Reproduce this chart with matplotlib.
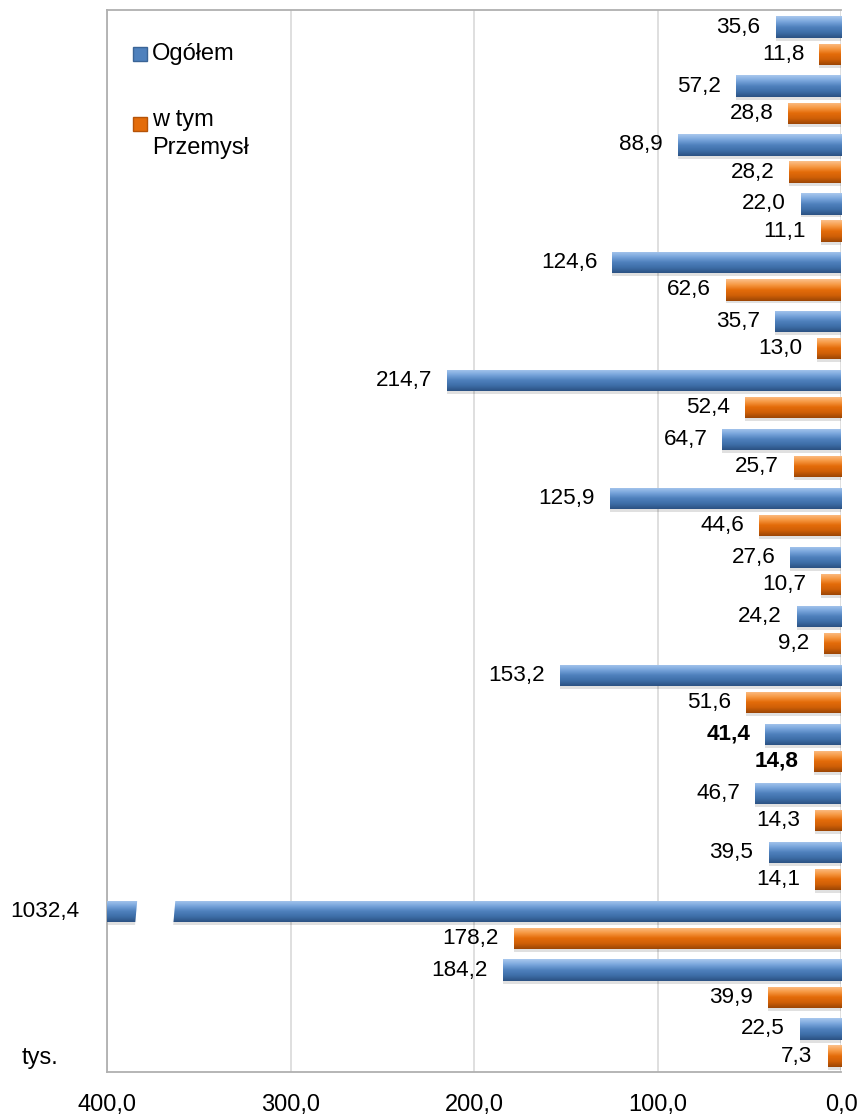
import matplotlib
matplotlib.use('Agg')

from matplotlib import pyplot as plt
from matplotlib.colors import LinearSegmentedColormap
from matplotlib.patches import Rectangle, Polygon
import numpy as np

plt.rcParams['font.family'] = ['Liberation Sans', 'DejaVu Sans']

# values, top to bottom (tys.)
ogolem = [35.6, 57.2, 88.9, 22.0, 124.6, 35.7, 214.7, 64.7, 125.9,
          27.6, 24.2, 153.2, 41.4, 46.7, 39.5, 1032.4, 184.2, 22.5]
przemysl = [11.8, 28.8, 28.2, 11.1, 62.6, 13.0, 52.4, 25.7, 44.6,
            10.7, 9.2, 51.6, 14.8, 14.3, 14.1, 178.2, 39.9, 7.3]
bold_row = 12
xticks = [400, 300, 200, 100, 0]
series_names = ['Ogółem', 'w tym\nPrzemysł']

XMAX = 400
FS = 16.2

blue_cmap = LinearSegmentedColormap.from_list(
    'b', ['#a9c8ee', '#7aa6dc', '#4f81bd', '#3e6ea8', '#2b5283'])
orange_cmap = LinearSegmentedColormap.from_list(
    'o', ['#fbc08a', '#f79a45', '#e46c0a', '#cf5f07', '#9c4605'])

fig = plt.figure(figsize=(8.61, 11.14), dpi=100)
ax = fig.add_axes([107 / 861, 1 - 1072 / 1114, 734 / 861, 1062 / 1114])

y = np.arange(len(ogolem))
h = 0.36
off = 0.23

grad = np.linspace(0, 1, 64).reshape(-1, 1)


def draw(vals, ypos, cmap, color):
    # soft shadow below the bars
    ax.barh(ypos + 0.05, vals, h, color='#000000', alpha=0.12, zorder=2)
    bars = ax.barh(ypos, vals, h, color=color, zorder=3)
    for b in bars:
        x0, y0 = b.get_x(), b.get_y()
        x1 = min(x0 + b.get_width(), XMAX)
        im = ax.imshow(grad, extent=(x0, x1, y0, y0 + b.get_height()),
                       origin='lower', aspect='auto', cmap=cmap, zorder=4)
        im.set_clip_path(b)
    return bars


draw(ogolem, y - off, blue_cmap, '#4f81bd')
draw(przemysl, y + off, orange_cmap, '#e46c0a')


def label(v, yy, bold):
    txt = f'{v:.1f}'.replace('.', ',')
    xv = min(v, XMAX)
    dx = -15 if v <= XMAX else -28
    ax.annotate(txt, (xv, yy), xytext=(dx, 0), textcoords='offset pixels',
                ha='right', va='center', fontsize=FS, zorder=8,
                fontweight='bold' if bold else 'normal', annotation_clip=False)


for i in range(len(ogolem)):
    label(ogolem[i], y[i] - off, i == bold_row)
    label(przemysl[i], y[i] + off, i == bold_row)

# break mark on the bar that runs off the scale
for i, v in enumerate(ogolem):
    if v > XMAX:
        yt, yb = y[i] - off - h / 2 - 0.05, y[i] - off + h / 2 + 0.12
        ax.add_patch(Polygon([(383, yt), (363, yt), (364.5, yb), (384.5, yb)],
                             closed=True, color='white', zorder=6))

ax.set_xlim(XMAX, 0)
ax.set_ylim(len(ogolem) - 0.5, -0.52)
ax.set_yticks([])
ax.set_xticks(xticks)
ax.set_xticklabels([f'{t:.1f}'.replace('.', ',') for t in xticks], fontsize=17)
ax.tick_params(axis='x', length=0, pad=16)
ax.grid(axis='x', color='#d9d9d9', linewidth=1.2, zorder=0)
ax.set_axisbelow(True)
for s in ['left', 'top', 'bottom']:
    ax.spines[s].set_color('#b0b0b0')
    ax.spines[s].set_linewidth(1.3)
ax.spines['right'].set_visible(False)

# legend drawn by hand to keep the marker on the first text line
ax.add_patch(Rectangle((0.0354, 0.952), 0.019, 0.0132, transform=ax.transAxes,
                       facecolor='#4f81bd', edgecolor='#3a6496', clip_on=False, zorder=7))
ax.text(0.0613, 0.9586, series_names[0], transform=ax.transAxes,
        ha='left', va='center', fontsize=17)
ax.add_patch(Rectangle((0.0354, 0.886), 0.019, 0.0132, transform=ax.transAxes,
                       facecolor='#e46c0a', edgecolor='#b55308', clip_on=False, zorder=7))
ax.text(0.0613, 0.9065, series_names[1], transform=ax.transAxes,
        ha='left', va='top', fontsize=17, linespacing=1.35)

ax.text(-0.091, 0.013, 'tys.', transform=ax.transAxes, ha='center',
        va='center', fontsize=17)

fig.savefig('out.png', dpi=100)
